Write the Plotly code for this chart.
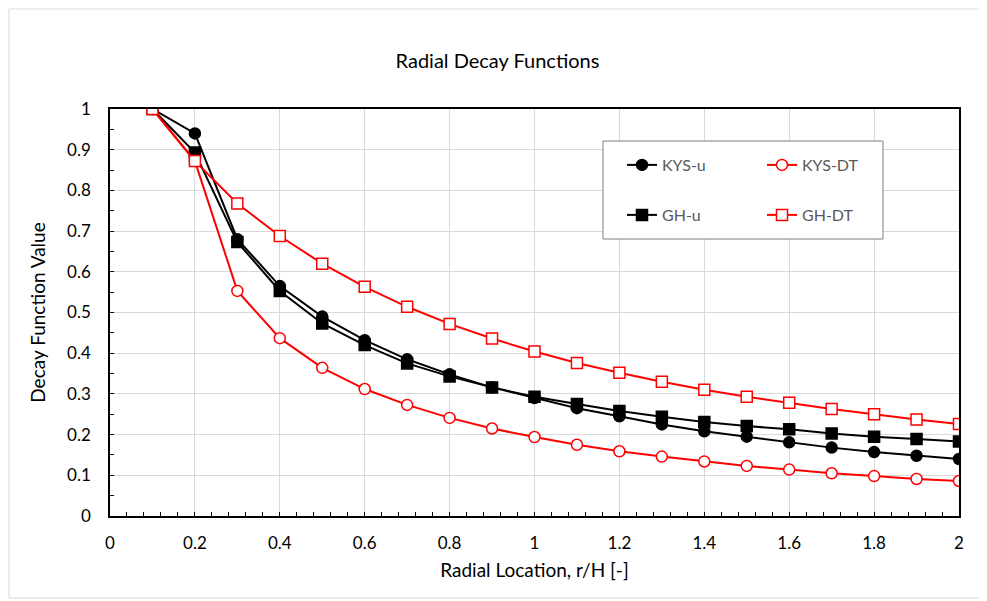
import plotly.graph_objects as go

r_over_h = [0.1, 0.2, 0.3, 0.4, 0.5, 0.6, 0.7, 0.8, 0.9, 1.0,
            1.1, 1.2, 1.3, 1.4, 1.5, 1.6, 1.7, 1.8, 1.9, 2.0]
kys_u = [1.0, 0.94, 0.68, 0.565, 0.49, 0.432, 0.385, 0.348, 0.316, 0.29,
         0.265, 0.245, 0.225, 0.208, 0.195, 0.181, 0.168, 0.157, 0.148, 0.14]
gh_u = [1.0, 0.893, 0.673, 0.553, 0.473, 0.42, 0.375, 0.343, 0.316, 0.293,
        0.275, 0.258, 0.244, 0.231, 0.221, 0.213, 0.203, 0.195, 0.189, 0.183]
kys_dt = [1.0, 0.872, 0.553, 0.437, 0.364, 0.312, 0.273, 0.241, 0.215, 0.194,
          0.175, 0.159, 0.146, 0.134, 0.123, 0.114, 0.105, 0.098, 0.091, 0.086]
gh_dt = [1.0, 0.872, 0.768, 0.688, 0.62, 0.563, 0.514, 0.472, 0.436, 0.404,
         0.376, 0.352, 0.33, 0.31, 0.293, 0.278, 0.263, 0.25, 0.237, 0.226]

FONT = "Lato"
RED = "#FF0000"
OFF = 8  # page body margin offset
W, H = 987 - OFF, 601 - OFF
# desired plot area in screenshot px: x 110..959, y 109..516
PL, PR, PT, PB = 110 - OFF, 959 - OFF, 109 - OFF, 516 - OFF
fig = go.Figure()

def add(name, y, color, symbol, fill, legend):
    fig.add_trace(go.Scatter(
        x=r_over_h, y=y, name=name, mode="lines+markers", showlegend=True,
        line=dict(color=color, width=2),
        marker=dict(symbol=symbol, size=11, color=fill,
                    line=dict(color=color, width=1.5)),
        legend=legend,
    ))

add("KYS-u", kys_u, "black", "circle", "black", "legend")
add("KYS-DT", kys_dt, RED, "circle", "white", "legend2")
add("GH-u", gh_u, "black", "square", "black", "legend3")
add("GH-DT", gh_dt, RED, "square", "white", "legend4")

def px2paper(xp, yp):
    xp -= OFF
    yp -= OFF
    return (xp - PL) / (PR - PL), (PB - yp) / (PB - PT)

leg_common = dict(bgcolor="rgba(0,0,0,0)", borderwidth=0,
                  font=dict(family=FONT, size=16, color="#595959"),
                  xanchor="left", yanchor="middle", itemwidth=30,
                  visible=True)

lx1, ly1 = px2paper(622, 165)
lx2, _ = px2paper(762, 165)
_, ly3 = px2paper(622, 215)

fig.update_layout(
    width=W, height=H, showlegend=True,
    margin=dict(l=PL, r=W - PR, t=PT, b=H - PB),
    paper_bgcolor="white", plot_bgcolor="white",
    title=dict(text="Radial Decay Functions", x=0.5, xanchor="center",
               y=1 - (61 - OFF) / H, yanchor="middle",
               font=dict(family=FONT, size=20, color="black")),
    font=dict(family=FONT, size=17, color="black"),
    legend=dict(x=lx1, y=ly1, **leg_common),
    legend2=dict(x=lx2, y=ly1, **leg_common),
    legend3=dict(x=lx1, y=ly3, **leg_common),
    legend4=dict(x=lx2, y=ly3, **leg_common),
    xaxis=dict(
        range=[0, 2], dtick=0.2, tick0=0, showgrid=True, gridcolor="#D9D9D9", gridwidth=1,
        showline=True, linecolor="black", linewidth=1.5, mirror=True,
        ticks="inside", ticklen=4, tickcolor="black", ticklabelstandoff=11,
        minor=dict(dtick=0.04, ticks="inside", ticklen=4, tickcolor="black", showgrid=False),
        zeroline=False, tickformat="~g",
        title=dict(text="Radial Location, r/H [-]", font=dict(family=FONT, size=19), standoff=12),
        tickfont=dict(family=FONT, size=17),
    ),
    yaxis=dict(
        range=[0, 1], dtick=0.1, tick0=0, showgrid=True, gridcolor="#D9D9D9", gridwidth=1,
        showline=True, linecolor="black", linewidth=1.5, mirror=True,
        ticks="inside", ticklen=4, tickcolor="black", ticklabelstandoff=14,
        minor=dict(dtick=0.05, ticks="inside", ticklen=4, tickcolor="black", showgrid=False),
        zeroline=False, tickformat="~g",
        title=dict(text="Decay Function Value", font=dict(family=FONT, size=19), standoff=16),
        tickfont=dict(family=FONT, size=17),
    ),
)

# legend box
x0, y0 = px2paper(603, 141)
x1, y1 = px2paper(883, 239)
fig.add_shape(type="rect", xref="paper", yref="paper", x0=x0, y0=y1, x1=x1, y1=y0,
              line=dict(color="#7F7F7F", width=1), fillcolor="white", layer="above")
# outer chart border (kept inside the drawable figure area)
bx0, by0 = px2paper(9, 598)
bx1, by1 = px2paper(983, 9)
fig.add_shape(type="rect", xref="paper", yref="paper", x0=bx0, y0=by0, x1=bx1, y1=by1,
              line=dict(color="#D9D9D9", width=1))

fig.write_html("out.html")
